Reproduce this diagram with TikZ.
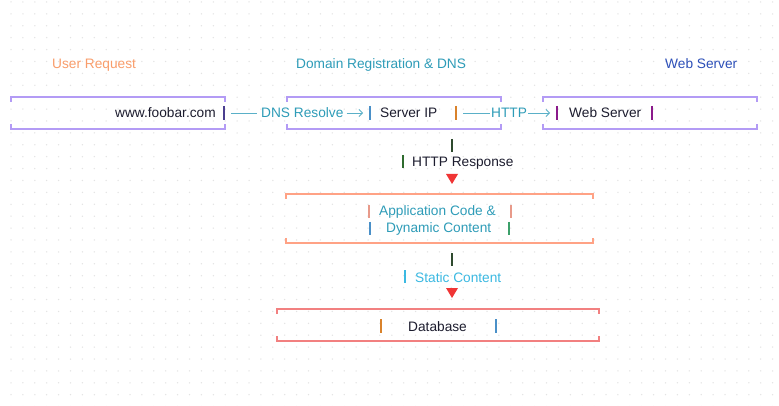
\documentclass[tikz,border=0pt]{standalone}
\usepackage{fontspec}
\setmainfont{Liberation Sans}
\usetikzlibrary{arrows.meta}
\definecolor{boxpurple}{HTML}{B39BF5}
\definecolor{boxsalmon}{HTML}{FFA285}
\definecolor{boxcoral}{HTML}{F28080}
\definecolor{hdorange}{HTML}{F99D6B}
\definecolor{hdteal}{HTML}{2E9CB8}
\definecolor{hdblue}{HTML}{2C4FB8}
\definecolor{conn}{HTML}{5AB0C8}
\definecolor{txtdark}{HTML}{1C1C2E}
\definecolor{tri}{HTML}{F03535}
\definecolor{staticblue}{HTML}{3BB9E2}
\definecolor{dotgray}{HTML}{E3E3E3}
\definecolor{barnavy}{HTML}{4B3F8F}
\definecolor{barblue}{HTML}{4A90C8}
\definecolor{barorange}{HTML}{D9822B}
\definecolor{barpurple}{HTML}{8B1A8B}
\definecolor{bardark}{HTML}{2E4A2E}
\definecolor{bargreen}{HTML}{2E6B2E}
\definecolor{barsalmon}{HTML}{E89A8A}
\definecolor{barteal}{HTML}{3CA06A}
\tikzset{
  txt/.style={inner sep=0pt, font=\fontsize{13.7}{16}\selectfont, anchor=base west},
  bar/.style={line width=1.3pt},
  bracketbox/.style={line width=1.3pt},
  connline/.style={draw=conn, line width=0.8pt},
  conarrow/.style={draw=conn, line width=0.8pt, -{Straight Barb[length=3.5pt,width=7pt]}},
}
\begin{document}
\begin{tikzpicture}[x=1pt,y=-1pt]
\useasboundingbox (0,0) rectangle (779,406);
\fill[white] (0,0) rectangle (779,406);
% dot grid
\foreach \i in {0,...,65} {
  \foreach \j in {0,...,34} {
    \fill[dotgray] ({11+11.9*\i},{2+11.9*\j}) circle (0.75);
  }
}
% headers
\node[txt, text=hdorange] (h1) at (52,69) {User Request};
\node[txt, text=hdteal] (h2) at (296,69) {Domain Registration \& DNS};
\node[txt, text=hdblue] (h3) at (665,69) {Web Server};

% bracket boxes
\newcommand{\bbox}[5]{%
  \draw[bracketbox,#5] (#1,#3+5) -- (#1,#3) -- (#2,#3) -- (#2,#3+5);
  \draw[bracketbox,#5] (#1,#4-5) -- (#1,#4) -- (#2,#4) -- (#2,#4-5);
}
\bbox{11}{225}{97}{129}{boxpurple}
\bbox{287}{501}{97}{129}{boxpurple}
\bbox{543}{757}{97}{129}{boxpurple}
\bbox{286}{593}{194}{243}{boxsalmon}
\bbox{277}{599}{309}{341}{boxcoral}

% row 1 texts
\node[txt, text=txtdark] (www) at (115,118) {www.foobar.com};
\draw[bar, barnavy] (224,106) -- (224,120);
\coordinate (wwwend) at (231,113);
\node[txt, text=hdteal] (dns) at (261,118) {DNS Resolve};
\draw[bar, barblue] (370,106) -- (370,120);
\coordinate (sipstart) at (363,113);
\node[txt, text=txtdark] (sip) at (380,118) {Server IP};
\draw[bar, barorange] (456,106) -- (456,120);
\coordinate (sipend) at (463,113);
\node[txt, text=hdteal] (http) at (491,118) {HTTP};
\coordinate (wsstart) at (550,113);
\draw[bar, barpurple] (557,106) -- (557,120);
\node[txt, text=txtdark] (ws) at (569,118) {Web Server};
\draw[bar, barpurple] (652,106) -- (652,120);

\draw[connline] (wwwend) -- ([xshift=-4pt]dns.west |- wwwend);
\draw[conarrow] ([xshift=3pt]dns.east |- wwwend) -- (sipstart);
\draw[connline] (sipend) -- ([xshift=-1pt]http.west |- sipend);
\draw[conarrow] ([xshift=1pt]http.east |- sipend) -- (wsstart);

% HTTP Response
\draw[bar, bardark] (452,139) -- (452,152);
\draw[bar, bargreen] (403,155) -- (403,168);
\node[txt, text=txtdark] (resp) at (412,167) {HTTP Response};
\fill[tri] (446,174) -- (458,174) -- (452,184) -- cycle;

% application box
\draw[bar, barsalmon] (369,205) -- (369,218);
\node[txt, text=hdteal] (app1) at (379,216) {Application Code \&};
\draw[bar, barsalmon] (511,205) -- (511,218);
\draw[bar, barblue] (370,222) -- (370,235);
\node[txt, text=hdteal] (app2) at (386,233) {Dynamic Content};
\draw[bar, barteal] (509,222) -- (509,235);

% Static content
\draw[bar, bardark] (452,253) -- (452,266);
\draw[bar, staticblue] (405,270) -- (405,283);
\node[txt, text=staticblue] (stat) at (415,282) {Static Content};
\fill[tri] (446,288) -- (458,288) -- (452,298) -- cycle;

% database
\draw[bar, barorange] (381,319) -- (381,333);
\node[txt, text=txtdark] (db) at (408,331) {Database};
\draw[bar, barblue] (496,319) -- (496,333);
\end{tikzpicture}
\end{document}
